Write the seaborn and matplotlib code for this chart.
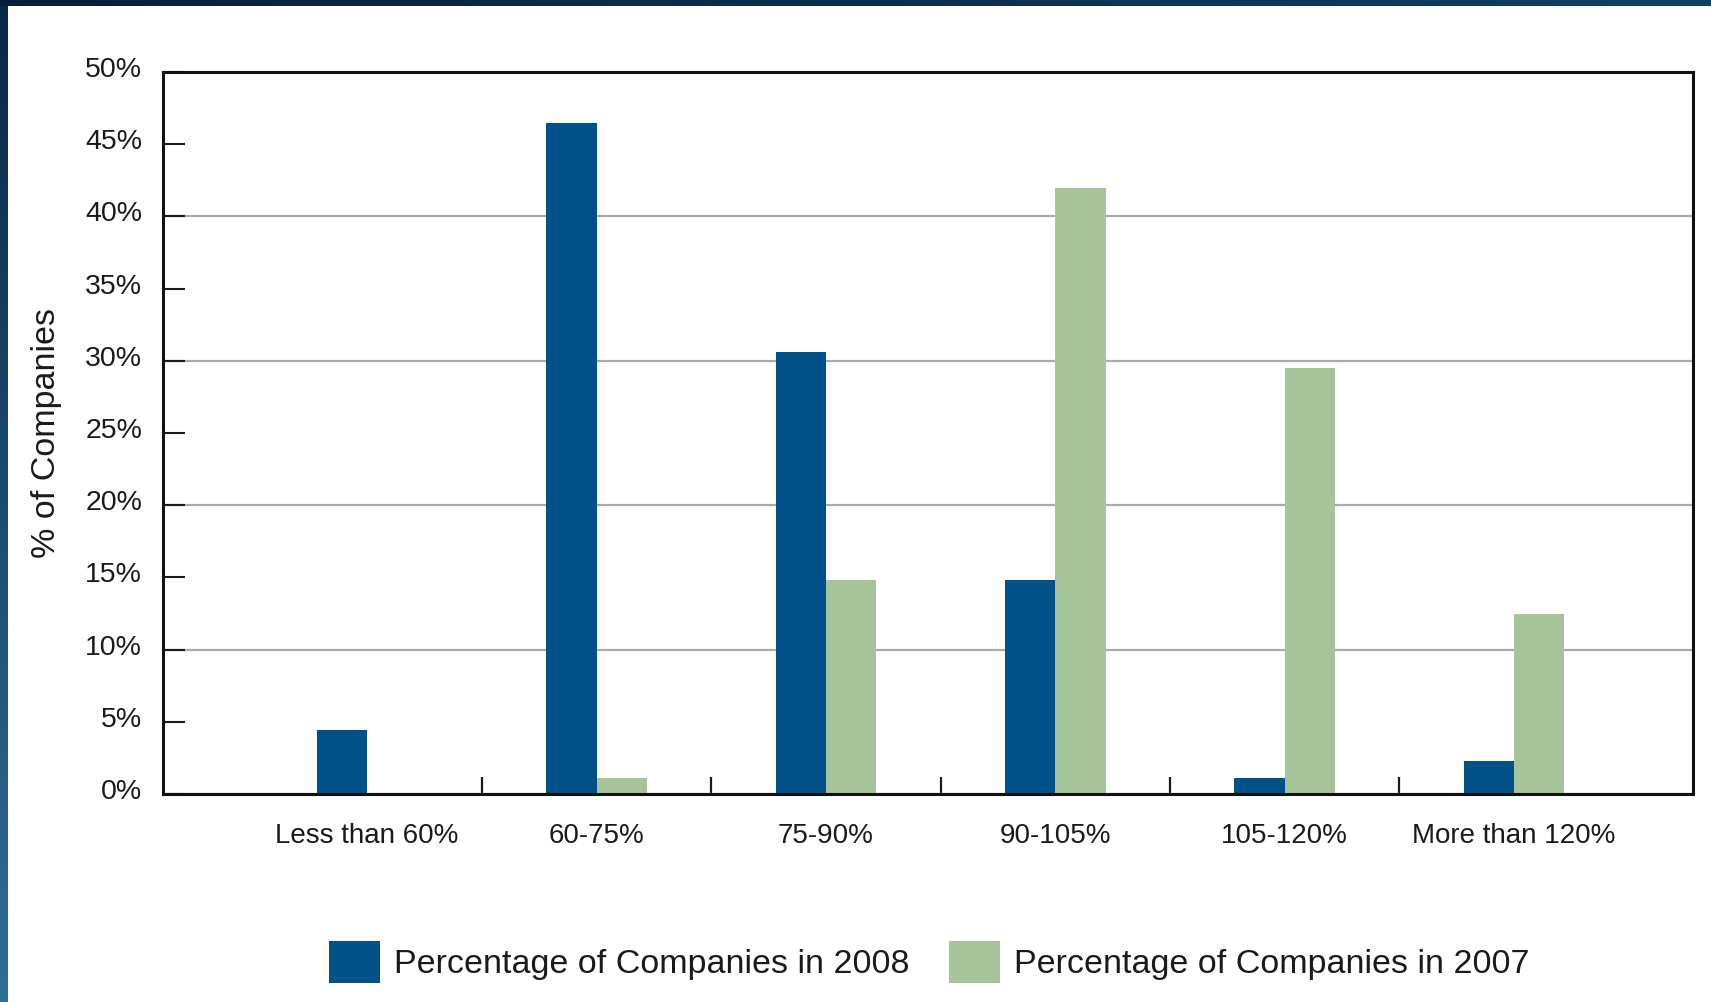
import numpy as np
import pandas as pd
import matplotlib
matplotlib.use("Agg")
import matplotlib.pyplot as plt
import matplotlib.ticker as mticker
from matplotlib.transforms import ScaledTranslation
from matplotlib.colors import LinearSegmentedColormap
import seaborn as sns

# ---- data ----
categories = ["Less than 60%", "60-75%", "75-90%", "90-105%", "105-120%", "More than 120%"]
pct_2008 = [4.4, 46.5, 30.6, 14.8, 1.1, 2.3]
pct_2007 = [0.0, 1.1, 14.8, 42.0, 29.5, 12.5]
series_labels = ["Percentage of Companies in 2008", "Percentage of Companies in 2007"]
y_label = "% of Companies"

colors = ["#00518A", "#A6C39A"]

df = pd.DataFrame({
    "category": categories * 2,
    "value": pct_2008 + pct_2007,
    "series": [series_labels[0]] * len(categories) + [series_labels[1]] * len(categories),
})

sns.set_theme(style="white")
plt.rcParams["font.family"] = ["Liberation Sans", "DejaVu Sans"]
plt.rcParams["text.color"] = "#1a1a1a"

W, H = 1711, 1002
fig = plt.figure(figsize=(W / 100, H / 100), dpi=100)
fig.patch.set_facecolor("white")

# decorative border (left gradient strip + top band)
lax = fig.add_axes([0, 0, 8 / W, 1])
grad = np.linspace(0, 1, 256).reshape(-1, 1)
cm_left = LinearSegmentedColormap.from_list("l", ["#0a2746", "#2f6e96"])
lax.imshow(grad, aspect="auto", cmap=cm_left, origin="upper")
lax.axis("off")
tax = fig.add_axes([0, 1 - 6 / H, 1, 6 / H])
cm_top = LinearSegmentedColormap.from_list("t", ["#061f3b", "#123f63"])
tax.imshow(np.linspace(0, 1, 256).reshape(1, -1), aspect="auto", cmap=cm_top)
tax.axis("off")

ax = fig.add_axes([163 / W, 1 - 794 / H, (1693 - 163) / W, (794 - 72) / H])

sns.barplot(data=df, x="category", y="value", hue="series", hue_order=series_labels,
            palette=colors, width=0.438, gap=0, saturation=1, linewidth=0,
            ax=ax, zorder=3)

ax.set_xlim(-0.89, 5.78)
ax.set_ylim(0, 50)

# y axis ticks: major every 10 (with grid), minor every 5
ax.yaxis.set_major_locator(mticker.MultipleLocator(10))
ax.yaxis.set_minor_locator(mticker.FixedLocator([5, 15, 25, 35, 45]))
fmt = mticker.PercentFormatter(decimals=0)
ax.yaxis.set_major_formatter(fmt)
ax.yaxis.set_minor_formatter(fmt)
ax.tick_params(axis="y", which="both", direction="in", length=16, width=1.5,
               color="#1a1a1a", labelsize=20.5, pad=15, labelcolor="#1a1a1a", left=True)
ax.yaxis.grid(True, which="major", color="#aaaaaa", linewidth=1.6, zorder=0)
ax.set_axisbelow(True)

# x axis: labels at category centres, separator ticks at boundaries
ax.set_xticks(range(len(categories)))
ax.set_xticklabels(categories)
ax.xaxis.set_minor_locator(mticker.FixedLocator(np.arange(0.5, len(categories) - 0.5, 1)))
ax.tick_params(axis="x", which="major", length=0, labelsize=20, pad=21, labelcolor="#1a1a1a")
ax.tick_params(axis="x", which="minor", direction="in", length=12, width=1.6,
               color="#1a1a1a", bottom=True)

ax.set_xlabel("")
ax.set_ylabel(y_label, fontsize=24.5, color="#1a1a1a")
ax.yaxis.set_label_coords(-0.066, 0.5)

for sp in ax.spines.values():
    sp.set_visible(True)
    sp.set_color("#111111")
    sp.set_linewidth(2.2)
    sp.set_zorder(5)

# shift y tick labels slightly upward as in the reference
for lbl in ax.get_yticklabels(which="both"):
    lbl.set_transform(lbl.get_transform() + ScaledTranslation(0, 5 / 100, fig.dpi_scale_trans))

handles, labels = ax.get_legend_handles_labels()
ax.get_legend().remove()
fig.legend(handles, labels, loc="center", bbox_to_anchor=(0.543, 0.040), ncol=2,
           frameon=False, fontsize=24.5, handlelength=1.5, handleheight=1.5,
           handletextpad=0.42, columnspacing=1.15)

fig.savefig("out.png", dpi=100, facecolor="white")
